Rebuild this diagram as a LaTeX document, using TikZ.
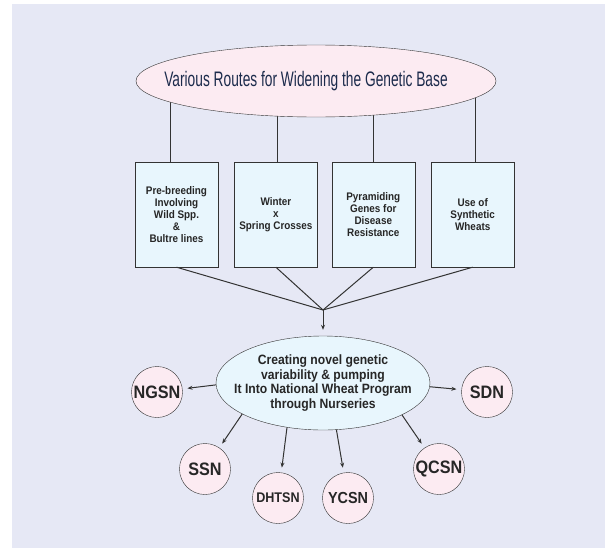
\documentclass[tikz,border=0pt]{standalone}
\usepackage{fontspec}
\setmainfont{Liberation Sans}
\newfontfamily\bannerfont[FakeStretch=0.655]{Liberation Sans}
\newfontfamily\narrowfont[FakeStretch=0.9]{Liberation Sans}
\usepackage{xcolor}
\usetikzlibrary{arrows.meta,positioning,shapes.geometric}
\definecolor{bgcol}{HTML}{E6E8F5}
\definecolor{pinkfill}{HTML}{FCEBF2}
\definecolor{bluefill}{HTML}{E8F6FD}
\definecolor{linecol}{HTML}{333333}
\definecolor{navy}{HTML}{1C2B4C}
\pgfdeclarelayer{bg}
\pgfdeclarelayer{wires}
\pgfsetlayers{bg,wires,main}
\tikzset{
  banner/.style={draw=linecol,ellipse,fill=pinkfill,minimum width=360pt,minimum height=72pt,inner xsep=-25pt,inner ysep=0pt,text=navy,font=\bannerfont\fontsize{21}{24}\selectfont},
  route/.style={draw=linecol,fill=bluefill,minimum width=83pt,minimum height=105pt,inner sep=0pt,align=center,text=black!85,font=\narrowfont\bfseries\fontsize{11}{12}\selectfont},
  pool/.style={draw=linecol,ellipse,fill=bluefill,minimum width=214pt,minimum height=94pt,inner xsep=-20pt,inner ysep=0pt,align=center,text=black!85,font=\narrowfont\bfseries\fontsize{13.5}{14.7}\selectfont},
  nursery/.style={draw=linecol,circle,fill=pinkfill,minimum size=51pt,inner sep=0pt,text=black!85,font=\narrowfont\bfseries\fontsize{18}{20}\selectfont},
  link/.style={draw=linecol,line width=1pt},
  arrow/.style={-{Stealth[length=5pt,width=4pt]},draw=linecol,line width=1pt,shorten >=5pt}
}
\begin{document}
\begin{tikzpicture}[x=1pt,y=-1pt]
  \useasboundingbox (0,0) rectangle (605,549);
  \begin{pgfonlayer}{bg}
    \fill[bgcol] (12,4) rectangle (605,548);
  \end{pgfonlayer}

  \node (base) [banner] at (316,81) {Various Routes for Widening the Genetic Base\hspace*{20pt}};

  \node (prebreed) [route] at (176.5,214.5) {Pre-breeding\\Involving\\Wild Spp.\\\&\\Bultre lines};
  \node (winter) [route,right=16pt of prebreed] {Winter\\x\\Spring Crosses};
  \node (pyramid) [route,right=14pt of winter] {Pyramiding\\Genes for\\Disease\\Resistance};
  \node (synth) [route,right=16pt of pyramid] {Use of\\Synthetic\\Wheats};

  \node (novel) [pool] at (323,383) {Creating novel genetic\\variability \& pumping\\It Into National Wheat Program\\through Nurseries};

  \node (ngsn) [nursery] at (157,392) {NGSN};
  \node (sdn) [nursery] at (487,392) {SDN};
  \node (ssn) [nursery] at (205,469) {SSN};
  \node (dhtsn) [nursery,font=\narrowfont\bfseries\fontsize{14}{16}\selectfont] at (278,498) {DHTSN};
  \node (ycsn) [nursery,font=\narrowfont\bfseries\fontsize{16}{18}\selectfont] at (348,498) {YCSN};
  \node (qcsn) [nursery] at (439,469) {QCSN};

  \coordinate (hub) at (323,310);

  \begin{pgfonlayer}{wires}
    \draw[link] ([xshift=-6pt]prebreed.north) -- ([xshift=-6pt]prebreed.north |- base.center);
    \draw[link] ([xshift=2pt]winter.north) -- ([xshift=2pt]winter.north |- base.center);
    \draw[link] (pyramid.north) -- (pyramid.north |- base.center);
    \draw[link] ([xshift=2.5pt]synth.north) -- ([xshift=2.5pt]synth.north |- base.center);
  \end{pgfonlayer}

  \draw[link] (prebreed.south) -- (hub);
  \draw[link] (winter.south) -- (hub);
  \draw[link] (pyramid.south) -- (hub);
  \draw[link] (synth.south) -- (hub);
  \draw[arrow,shorten >=6pt] (hub) -- (novel.north);

  \draw[arrow] (novel.181) -- (ngsn);
  \draw[arrow] (novel.358) -- (sdn);
  \draw[arrow] (novel.201) -- (ssn);
  \draw[arrow] (novel.231) -- (dhtsn);
  \draw[arrow] (novel.286) -- (ycsn);
  \draw[arrow] (novel.338) -- (qcsn);
\end{tikzpicture}
\end{document}
